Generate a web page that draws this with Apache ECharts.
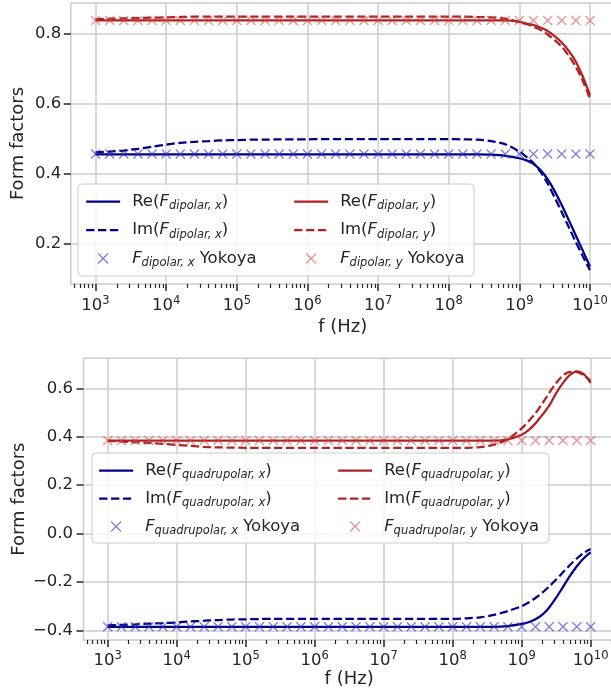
<!DOCTYPE html>
<html>
<head>
<meta charset="utf-8">
<script src="https://cdn.jsdelivr.net/npm/echarts@6/dist/echarts.min.js"></script>
<style>
  html, body { margin: 0; padding: 0; background: #ffffff; }
  #chart { width: 611px; height: 695px; }
</style>
</head>
<body>
<div id="chart"></div>
<script>
// Frequency grid of the computed form factors, as log10(f / Hz)
const lineExp = [3.0, 3.2, 3.4, 3.6, 3.8, 4.0, 4.2, 4.4, 4.6, 4.8,
                 5.0, 5.2, 5.4, 5.6, 5.8, 6.0, 6.2, 6.4, 6.6, 6.8,
                 7.0, 7.2, 7.4, 7.6, 7.8, 8.0, 8.2, 8.4, 8.6, 8.8,
                 9.0, 9.1, 9.2, 9.3, 9.4, 9.5, 9.6, 9.7, 9.8, 9.9, 10.0];

// Dipolar form factors
const reDipX = [0.455, 0.455, 0.455, 0.455, 0.455, 0.455, 0.455, 0.455, 0.455, 0.455,
                0.455, 0.455, 0.455, 0.455, 0.455, 0.455, 0.455, 0.455, 0.455, 0.455,
                0.455, 0.455, 0.455, 0.455, 0.455, 0.455, 0.455, 0.455, 0.454, 0.451,
                0.444, 0.438, 0.428, 0.410, 0.384, 0.350, 0.310, 0.267, 0.223, 0.179, 0.134];
const imDipX = [0.461, 0.463, 0.466, 0.471, 0.477, 0.483, 0.488, 0.491, 0.493, 0.495,
                0.496, 0.497, 0.497, 0.498, 0.498, 0.498, 0.499, 0.499, 0.499, 0.499,
                0.499, 0.499, 0.499, 0.499, 0.499, 0.499, 0.498, 0.497, 0.493, 0.484,
                0.463, 0.448, 0.430, 0.405, 0.372, 0.332, 0.290, 0.247, 0.204, 0.163, 0.124];
const reDipY = [0.838, 0.838, 0.838, 0.838, 0.838, 0.838, 0.838, 0.838, 0.838, 0.838,
                0.838, 0.838, 0.838, 0.838, 0.838, 0.838, 0.838, 0.838, 0.838, 0.838,
                0.838, 0.838, 0.838, 0.838, 0.838, 0.838, 0.838, 0.838, 0.838, 0.838,
                0.834, 0.829, 0.825, 0.818, 0.808, 0.793, 0.775, 0.751, 0.720, 0.677, 0.624];
const imDipY = [0.842, 0.843, 0.844, 0.845, 0.846, 0.847, 0.848, 0.849, 0.849, 0.849,
                0.849, 0.849, 0.849, 0.849, 0.849, 0.849, 0.849, 0.849, 0.849, 0.849,
                0.849, 0.849, 0.849, 0.849, 0.849, 0.849, 0.849, 0.848, 0.847, 0.843,
                0.834, 0.828, 0.820, 0.811, 0.798, 0.782, 0.763, 0.737, 0.705, 0.664, 0.615];

// Quadrupolar form factors
const reQuadX = [-0.385, -0.385, -0.385, -0.385, -0.385, -0.385, -0.385, -0.385, -0.385, -0.385,
                 -0.385, -0.385, -0.385, -0.385, -0.385, -0.385, -0.385, -0.385, -0.385, -0.385,
                 -0.385, -0.385, -0.385, -0.385, -0.385, -0.385, -0.385, -0.385, -0.385, -0.382,
                 -0.373, -0.366, -0.354, -0.335, -0.305, -0.265, -0.220, -0.175, -0.135, -0.102, -0.078];
const imQuadX = [-0.379, -0.377, -0.375, -0.372, -0.370, -0.367, -0.363, -0.360, -0.357, -0.355,
                 -0.354, -0.353, -0.352, -0.352, -0.352, -0.352, -0.352, -0.352, -0.352, -0.352,
                 -0.352, -0.352, -0.352, -0.352, -0.352, -0.352, -0.350, -0.346, -0.336, -0.320,
                 -0.300, -0.285, -0.266, -0.244, -0.218, -0.190, -0.160, -0.130, -0.103, -0.080, -0.064];
const reQuadY = [0.384, 0.384, 0.384, 0.384, 0.384, 0.384, 0.384, 0.384, 0.384, 0.384,
                 0.384, 0.384, 0.384, 0.384, 0.384, 0.384, 0.384, 0.384, 0.384, 0.384,
                 0.384, 0.384, 0.384, 0.384, 0.384, 0.384, 0.384, 0.384, 0.384, 0.389,
                 0.408, 0.427, 0.455, 0.490, 0.528, 0.580, 0.622, 0.655, 0.670, 0.658, 0.622];
const imQuadY = [0.383, 0.380, 0.377, 0.374, 0.370, 0.366, 0.362, 0.358, 0.356, 0.355,
                 0.354, 0.354, 0.354, 0.354, 0.354, 0.354, 0.354, 0.354, 0.354, 0.354,
                 0.354, 0.354, 0.354, 0.354, 0.354, 0.354, 0.354, 0.357, 0.367, 0.390,
                 0.434, 0.464, 0.496, 0.537, 0.581, 0.622, 0.653, 0.668, 0.667, 0.654, 0.631];

// Yokoya reference values, log10(f / Hz)
const yokoyaExp = [3.0, 3.2, 3.4, 3.6, 3.8, 4.0, 4.2, 4.4, 4.6, 4.8,
                   5.0, 5.2, 5.4, 5.6, 5.8, 6.0, 6.2, 6.4, 6.6, 6.8,
                   7.0, 7.2, 7.4, 7.6, 7.8, 8.0, 8.2, 8.4, 8.6, 8.8,
                   9.0, 9.2, 9.4, 9.6, 9.8, 10.0];
const yokDipX = [0.456, 0.456, 0.456, 0.456, 0.456, 0.456, 0.456, 0.456, 0.456, 0.456,
                 0.456, 0.456, 0.456, 0.456, 0.456, 0.456, 0.456, 0.456, 0.456, 0.456,
                 0.456, 0.456, 0.456, 0.456, 0.456, 0.456, 0.456, 0.456, 0.456, 0.456,
                 0.456, 0.456, 0.456, 0.456, 0.456, 0.456];
const yokDipY = [0.838, 0.838, 0.838, 0.838, 0.838, 0.838, 0.838, 0.838, 0.838, 0.838,
                 0.838, 0.838, 0.838, 0.838, 0.838, 0.838, 0.838, 0.838, 0.838, 0.838,
                 0.838, 0.838, 0.838, 0.838, 0.838, 0.838, 0.838, 0.838, 0.838, 0.838,
                 0.838, 0.838, 0.838, 0.838, 0.838, 0.838];
const yokQuadX = [-0.385, -0.385, -0.385, -0.385, -0.385, -0.385, -0.385, -0.385, -0.385, -0.385,
                  -0.385, -0.385, -0.385, -0.385, -0.385, -0.385, -0.385, -0.385, -0.385, -0.385,
                  -0.385, -0.385, -0.385, -0.385, -0.385, -0.385, -0.385, -0.385, -0.385, -0.385,
                  -0.385, -0.385, -0.385, -0.385, -0.385, -0.385];
const yokQuadY = [0.384, 0.384, 0.384, 0.384, 0.384, 0.384, 0.384, 0.384, 0.384, 0.384,
                  0.384, 0.384, 0.384, 0.384, 0.384, 0.384, 0.384, 0.384, 0.384, 0.384,
                  0.384, 0.384, 0.384, 0.384, 0.384, 0.384, 0.384, 0.384, 0.384, 0.384,
                  0.384, 0.384, 0.384, 0.384, 0.384, 0.384];

// Tick labels
const xDecades = [3, 4, 5, 6, 7, 8, 9, 10];
const yTicksDip = [0.2, 0.4, 0.6, 0.8];
const yTicksQuad = [-0.4, -0.2, 0.0, 0.2, 0.4, 0.6];

// ---- styling ----
const FONT = 'DejaVu Sans';
const INK = '#262626';
const GRID_C = '#cccccc';
const BLUE = '#00008b';
const RED = '#b22222';
const BLUE_X = 'rgba(55, 55, 200, 0.8)';
const RED_X = 'rgba(215, 75, 75, 0.75)';
const LW = 2.25;
const DASH = [8.3, 3.6];
const X_MIN = 2.65, X_MAX = 10.35;

// minor log ticks 2..9 x 10^n inside the axis range
const xMinor = [];
for (let n = 2; n <= 10; n++) {
  for (let k = 2; k <= 9; k++) {
    const e = n + Math.log10(k);
    if (e > X_MIN && e < X_MAX) xMinor.push(e);
  }
}

const pairs = (xs, ys) => xs.map((x, i) => [x, ys[i]]);

function xAxesFor(gridIndex, labelMargin, nameGap) {
  return [{
    type: 'value', gridIndex, min: X_MIN, max: X_MAX, position: 'bottom',
    name: 'f (Hz)', nameLocation: 'middle', nameGap,
    nameTextStyle: { fontFamily: FONT, fontSize: 18, color: INK },
    axisLine: { show: false, onZero: false },
    axisTick: { show: true, customValues: xDecades, length: 7, lineStyle: { color: INK, width: 1.5 } },
    axisLabel: {
      show: true, customValues: xDecades, margin: labelMargin,
      formatter: v => '{b|10}{e|' + Math.round(v) + '}',
      rich: {
        b: { fontFamily: FONT, fontSize: 16.5, color: INK, lineHeight: 22 },
        e: { fontFamily: FONT, fontSize: 11.5, color: INK, lineHeight: 12, verticalAlign: 'top' }
      }
    },
    splitLine: { show: true, lineStyle: { color: GRID_C, width: 1.5 } }
  }, {
    type: 'value', gridIndex, min: X_MIN, max: X_MAX, position: 'bottom',
    axisLine: { show: false, onZero: false }, axisLabel: { show: false }, splitLine: { show: false },
    axisTick: { show: true, customValues: xMinor, length: 4, lineStyle: { color: INK, width: 1.2 } }
  }];
}

function yAxisFor(gridIndex, min, max, ticks, labelMargin, nameGap) {
  return {
    type: 'value', gridIndex, min, max,
    name: 'Form factors', nameLocation: 'middle', nameGap, nameRotate: 90,
    nameMoveOverlap: false,
    nameTextStyle: { fontFamily: FONT, fontSize: 18, color: INK },
    axisLine: { show: false, onZero: false },
    axisTick: { show: true, customValues: ticks, length: 7, lineStyle: { color: INK, width: 1.5 } },
    axisLabel: {
      show: true, customValues: ticks, margin: labelMargin,
      fontFamily: FONT, fontSize: 16.5, color: INK,
      formatter: v => v.toFixed(1).replace('-', '\u2212')
    },
    splitLine: { show: true, lineStyle: { color: GRID_C, width: 1.5 } }
  };
}

function lineSeries(name, xAxisIndex, yAxisIndex, ys, color, dashed) {
  return {
    type: 'line', name, xAxisIndex, yAxisIndex,
    data: pairs(lineExp, ys),
    symbol: 'none', smooth: 0.3,
    lineStyle: { color, width: LW, type: dashed ? DASH : 'solid' },
    itemStyle: { color },
    emphasis: { disabled: true }, silent: true, z: 2
  };
}

function markerSeries(name, xAxisIndex, yAxisIndex, ys, color) {
  return {
    type: 'scatter', name, xAxisIndex, yAxisIndex,
    data: pairs(yokoyaExp, ys),
    symbol: 'path://M0,0L10,10M10,0L0,10', symbolSize: 9,
    itemStyle: { color: 'rgba(0,0,0,0)', borderColor: color, borderWidth: 1.3 },
    emphasis: { disabled: true }, silent: true, z: 3
  };
}

// legend text: "Re(F_dipolar, x)" -> Re(F with italic subscript)
function legendText(name) {
  let m = name.match(/^(Re|Im)\(F_(.+)\)$/);
  if (m) return '{n|' + m[1] + '(}{f|F}{s|' + m[2] + '}{n|)}';
  m = name.match(/^F_(.+) Yokoya$/);
  return '{f|F}{s|' + m[1] + '}{n| Yokoya}';
}
const legendRich = {
  n: { fontFamily: FONT, fontSize: 16.5, color: INK, lineHeight: 22 },
  f: { fontFamily: FONT, fontSize: 16.5, fontStyle: 'italic', color: INK, lineHeight: 22 },
  s: { fontFamily: FONT, fontSize: 11.5, fontStyle: 'italic', color: INK, lineHeight: 8, verticalAlign: 'bottom' }
};
// line entries show only their stroke, no point symbol
const lineEntry = name => ({ name, itemStyle: { color: 'rgba(0,0,0,0)', borderWidth: 0, opacity: 0 } });
function legendFor(names, left, top, gap) {
  return {
    orient: 'vertical', left, top, padding: 0, itemGap: gap,
    itemWidth: 34, itemHeight: 10, symbolKeepAspect: true,
    selectedMode: false, z: 6,
    data: [lineEntry(names[0]), lineEntry(names[1]), names[2]],
    formatter: legendText,
    textStyle: { fontFamily: FONT, fontSize: 16.5, color: INK, padding: [0, 0, 0, 7], rich: legendRich },
    lineStyle: { width: LW },
    itemStyle: { borderWidth: 1.3 }
  };
}

const names = {
  reDx: 'Re(F_dipolar, x)', imDx: 'Im(F_dipolar, x)', yDx: 'F_dipolar, x Yokoya',
  reDy: 'Re(F_dipolar, y)', imDy: 'Im(F_dipolar, y)', yDy: 'F_dipolar, y Yokoya',
  reQx: 'Re(F_quadrupolar, x)', imQx: 'Im(F_quadrupolar, x)', yQx: 'F_quadrupolar, x Yokoya',
  reQy: 'Re(F_quadrupolar, y)', imQy: 'Im(F_quadrupolar, y)', yQy: 'F_quadrupolar, y Yokoya'
};

const chart = echarts.init(document.getElementById('chart'), null, { renderer: 'canvas' });
chart.setOption({
  animation: false,
  backgroundColor: '#ffffff',
  grid: [
    { left: 70.8, top: 3, width: 543.9, height: 281, containLabel: false, outerBoundsMode: 'none',
      show: true, borderColor: GRID_C, borderWidth: 1.5, backgroundColor: 'transparent' },
    { left: 83.5, top: 358.3, width: 531.3, height: 281.7, containLabel: false, outerBoundsMode: 'none',
      show: true, borderColor: GRID_C, borderWidth: 1.5, backgroundColor: 'transparent' }
  ],
  xAxis: [...xAxesFor(0, 11, 34), ...xAxesFor(1, 10, 21)],
  yAxis: [
    yAxisFor(0, 0.0843, 0.888, yTicksDip, 9.5, 43),
    yAxisFor(1, -0.4395, 0.7237, yTicksQuad, 10.5, 55)
  ],
  legend: [
    legendFor([names.reDx, names.imDx, names.yDx], 85, 193, 9),
    legendFor([names.reDy, names.imDy, names.yDy], 293, 193, 9),
    legendFor([names.reQx, names.imQx, names.yQx], 98, 462, 8.5),
    legendFor([names.reQy, names.imQy, names.yQy], 337, 462, 8.5)
  ],
  graphic: [
    { type: 'rect', z: 5, silent: true, shape: { x: 78, y: 184, width: 396, height: 92, r: 4 },
      style: { fill: 'rgba(255,255,255,0.8)', stroke: GRID_C, lineWidth: 1 } },
    { type: 'rect', z: 5, silent: true, shape: { x: 92, y: 453, width: 457, height: 90, r: 4 },
      style: { fill: 'rgba(255,255,255,0.8)', stroke: GRID_C, lineWidth: 1 } }
  ],
  series: [
    lineSeries(names.reDx, 0, 0, reDipX, BLUE, false),
    lineSeries(names.imDx, 0, 0, imDipX, BLUE, true),
    markerSeries(names.yDx, 0, 0, yokDipX, BLUE_X),
    lineSeries(names.reDy, 0, 0, reDipY, RED, false),
    lineSeries(names.imDy, 0, 0, imDipY, RED, true),
    markerSeries(names.yDy, 0, 0, yokDipY, RED_X),

    lineSeries(names.reQx, 2, 1, reQuadX, BLUE, false),
    lineSeries(names.imQx, 2, 1, imQuadX, BLUE, true),
    markerSeries(names.yQx, 2, 1, yokQuadX, BLUE_X),
    lineSeries(names.reQy, 2, 1, reQuadY, RED, false),
    lineSeries(names.imQy, 2, 1, imQuadY, RED, true),
    markerSeries(names.yQy, 2, 1, yokQuadY, RED_X)
  ]
});
</script>
</body>
</html>
